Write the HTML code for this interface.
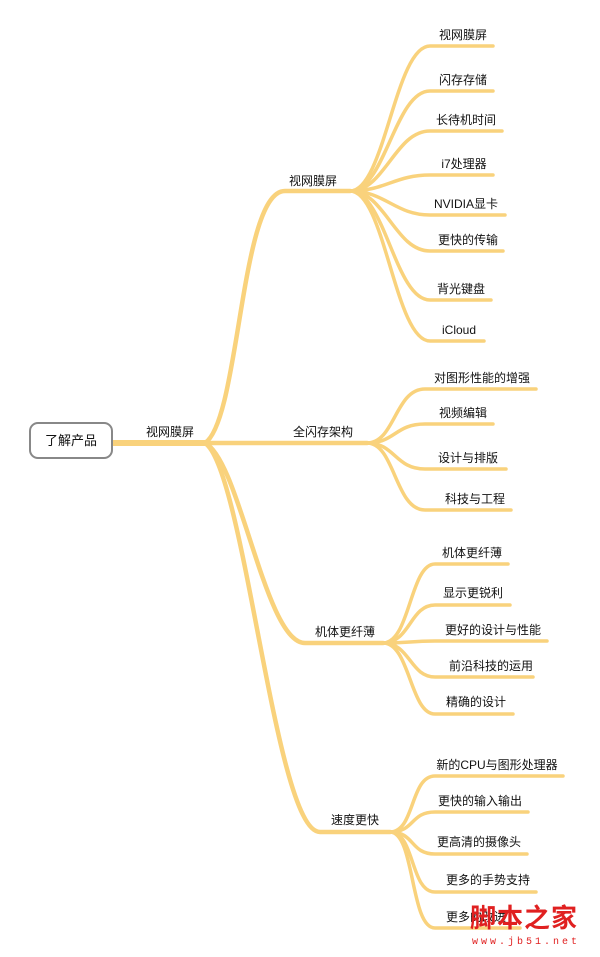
<!DOCTYPE html>
<html><head><meta charset="utf-8"><style>
html,body{margin:0;padding:0;background:#fff;width:600px;height:957px;overflow:hidden}
svg{display:block}
text{font-family:"Liberation Sans","Noto Sans CJK SC",sans-serif;font-size:12px;fill:#111}
</style></head><body>
<svg width="600" height="957" viewBox="0 0 600 957" xmlns="http://www.w3.org/2000/svg">
<g fill="none" stroke="#f9d27c" stroke-linecap="round">
<path d="M112 443 L205 443" stroke-width="6"/>
<path d="M205 443 C240 420, 240 191, 285 191 L350 191" stroke-width="4.5"/>
<path d="M205 443 L367 443" stroke-width="4.5"/>
<path d="M205 443 C240 460, 265 643, 305 643 L383 643" stroke-width="4.5"/>
<path d="M205 443 C245 470, 275 832, 320 832 L390 832" stroke-width="4.5"/>
<g stroke-width="3.5">
<path d="M350 191 C385 191, 395 46, 430 46 L493 46"/>
<path d="M350 191 C385 191, 395 91, 430 91 L493 91"/>
<path d="M350 191 C385 191, 395 131, 430 131 L502 131"/>
<path d="M350 191 C385 191, 395 175, 430 175 L493 175"/>
<path d="M350 191 C385 191, 395 215, 430 215 L505 215"/>
<path d="M350 191 C385 191, 395 251, 430 251 L503 251"/>
<path d="M350 191 C385 191, 395 300, 430 300 L491 300"/>
<path d="M350 191 C385 191, 395 341, 430 341 L484 341"/>
<path d="M367 443 C395 443, 395 389, 425 389 L536 389"/>
<path d="M367 443 C395 443, 395 424, 425 424 L493 424"/>
<path d="M367 443 C395 443, 395 469, 425 469 L506 469"/>
<path d="M367 443 C395 443, 395 510, 425 510 L511 510"/>
<path d="M383 643 C410 643, 410 564, 435 564 L508 564"/>
<path d="M383 643 C410 643, 410 605, 435 605 L510 605"/>
<path d="M383 643 C410 643, 410 641, 435 641 L547 641"/>
<path d="M383 643 C410 643, 410 677, 435 677 L533 677"/>
<path d="M383 643 C410 643, 410 714, 435 714 L513 714"/>
<path d="M390 832 C415 832, 410 776, 435 776 L563 776"/>
<path d="M390 832 C415 832, 410 812, 435 812 L528 812"/>
<path d="M390 832 C415 832, 410 854, 435 854 L527 854"/>
<path d="M390 832 C415 832, 410 892, 435 892 L536 892"/>
<path d="M390 832 C415 832, 410 928, 435 928 L520 928"/>
</g>
</g>
<rect x="30" y="423" width="82" height="35" rx="8" ry="8" fill="#fff" stroke="#888" stroke-width="2"/>
<text x="71" y="445" text-anchor="middle" style="font-size:13px">了解产品</text>
<text x="170" y="436" text-anchor="middle">视网膜屏</text>
<text x="313" y="185" text-anchor="middle">视网膜屏</text>
<text x="323" y="436" text-anchor="middle">全闪存架构</text>
<text x="345" y="636" text-anchor="middle">机体更纤薄</text>
<text x="355" y="824" text-anchor="middle">速度更快</text>
<g text-anchor="middle">
<text x="463" y="39">视网膜屏</text>
<text x="463" y="84">闪存存储</text>
<text x="466" y="124">长待机时间</text>
<text x="464" y="168">i7处理器</text>
<text x="466" y="208">NVIDIA显卡</text>
<text x="468" y="244">更快的传输</text>
<text x="461" y="293">背光键盘</text>
<text x="459" y="334">iCloud</text>
<text x="482" y="382">对图形性能的增强</text>
<text x="463" y="417">视频编辑</text>
<text x="468" y="462">设计与排版</text>
<text x="475" y="503">科技与工程</text>
<text x="472" y="557">机体更纤薄</text>
<text x="473" y="597">显示更锐利</text>
<text x="493" y="634">更好的设计与性能</text>
<text x="491" y="670">前沿科技的运用</text>
<text x="476" y="706">精确的设计</text>
<text x="497" y="769">新的CPU与图形处理器</text>
<text x="480" y="805">更快的输入输出</text>
<text x="479" y="846">更高清的摄像头</text>
<text x="488" y="884">更多的手势支持</text>
<text x="476" y="921">更多的改进</text>
</g>
<text x="470" y="927" style="font-size:26px;font-weight:bold;fill:#e02020;font-family:'Noto Sans CJK SC',sans-serif;letter-spacing:1px">脚本之家</text>
<text x="472" y="944" style="font-size:10px;fill:#e02020;letter-spacing:3px;font-family:'Liberation Mono',monospace">www.jb51.net</text>
</svg>
</body></html>
